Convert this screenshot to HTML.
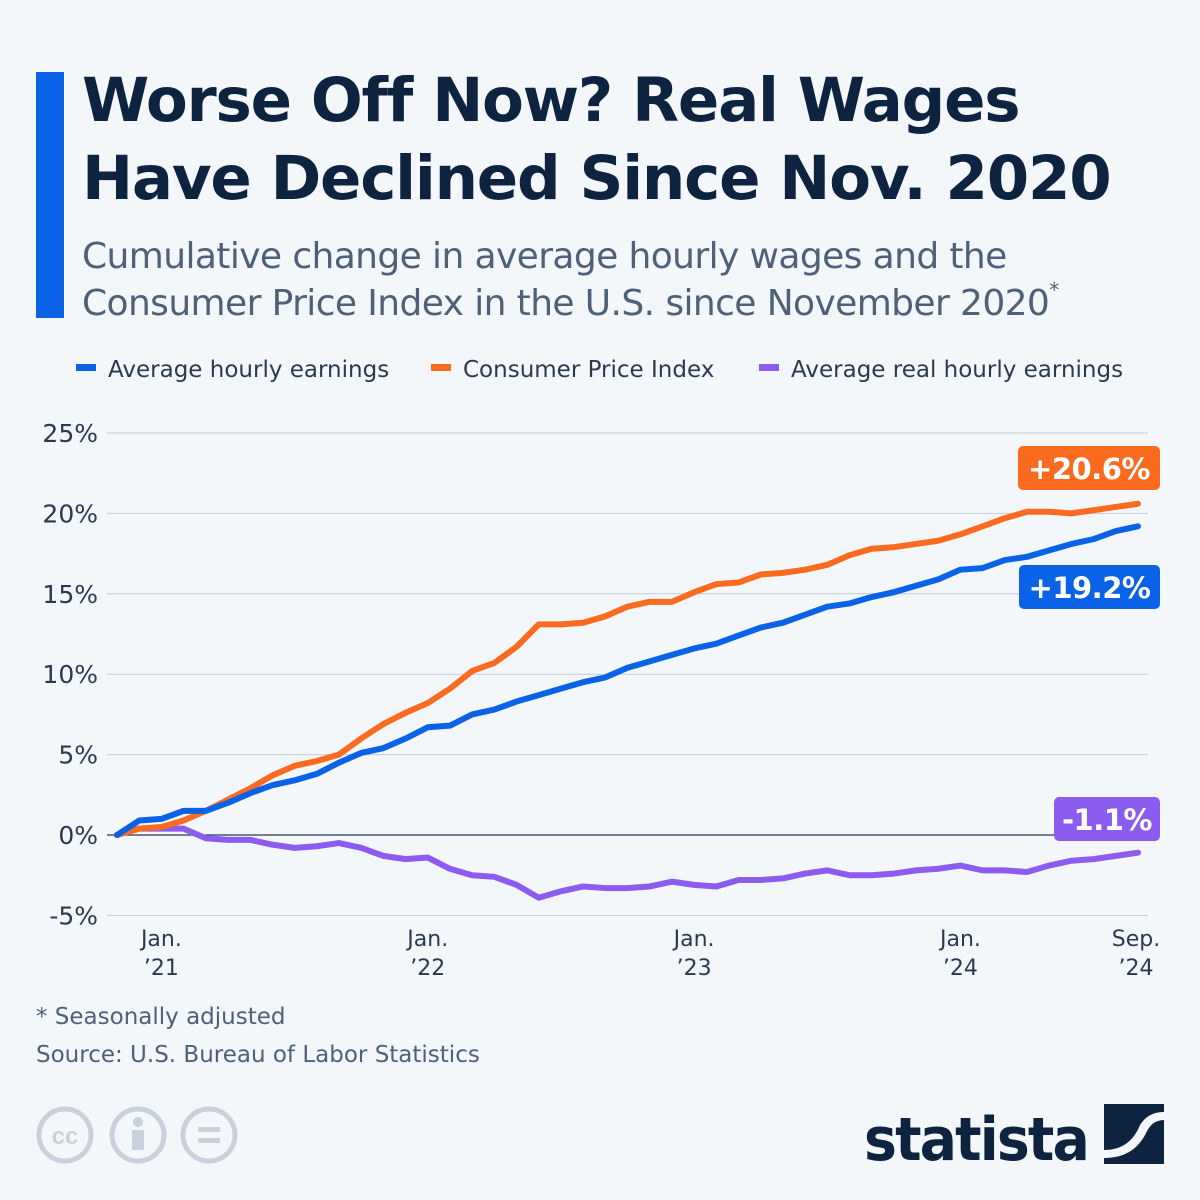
<!DOCTYPE html>
<html><head><meta charset="utf-8"><style>
body{margin:0;width:1200px;height:1200px;background:#f4f7fa;font-family:"Liberation Sans","DejaVu Sans",sans-serif;overflow:hidden;position:relative}
.t{position:absolute}
</style></head><body>
<div class="t" style="left:36px;top:72px;width:28px;height:246px;background:#0a63e6"></div>
<div class="t" style="left:82px;top:62px;font-size:61px;font-weight:bold;color:#0d2340;line-height:78px;font-family:'DejaVu Sans',sans-serif;letter-spacing:-1.2px">Worse Off Now? Real Wages<br>Have Declined Since Nov. 2020</div>
<div class="t" style="left:82px;top:233px;font-size:36px;color:#4e6178;line-height:47px;font-family:'DejaVu Sans',sans-serif;letter-spacing:-0.6px">Cumulative change in average hourly wages and the<br>Consumer Price Index in the U.S. since November 2020<span style="font-size:20px;vertical-align:top;line-height:20px">*</span></div>
<svg class="t" style="left:0;top:0" width="1200" height="1200">
<g id="legend" font-family="DejaVu Sans,sans-serif" font-size="23" fill="#2a3a4f">
<g><rect x="76" y="364" width="20" height="7" fill="#0a63e6"/><text x="108" y="377">Average hourly earnings</text></g>
<g><rect x="431" y="364" width="20" height="7" fill="#fa6b1f"/><text x="463" y="377">Consumer Price Index</text></g>
<g><rect x="759" y="364" width="20" height="7" fill="#8c5cf0"/><text x="791" y="377">Average real hourly earnings</text></g>
</g>
<g id="grid"></g><g id="xax"></g><g id="lines"></g><g id="badges"></g>
<text x="36" y="1024" font-size="23" fill="#4e6178" font-family="DejaVu Sans,sans-serif">* Seasonally adjusted</text>
<text x="36" y="1062" font-size="23" fill="#4e6178" font-family="DejaVu Sans,sans-serif">Source: U.S. Bureau of Labor Statistics</text>
<g fill="none" stroke="#c9d2dc" stroke-width="5">
<circle cx="65" cy="1135" r="26"/><circle cx="138" cy="1135" r="26"/><circle cx="209" cy="1135" r="26"/></g>
<text x="65" y="1144" font-size="24" font-weight="bold" fill="#c9d2dc" text-anchor="middle">cc</text>
<circle cx="138" cy="1122" r="5" fill="#c9d2dc"/><rect x="132" y="1130" width="12" height="20" fill="#c9d2dc"/>
<rect x="198" y="1127" width="22" height="5" fill="#c9d2dc"/><rect x="198" y="1138" width="22" height="5" fill="#c9d2dc"/>
<text x="864" y="1160" font-size="60" font-weight="bold" fill="#0d2340" font-family="DejaVu Sans,sans-serif" letter-spacing="-2" textLength="224" lengthAdjust="spacingAndGlyphs">statista</text>
<g><rect x="1104" y="1104" width="60" height="60" fill="#0d2340"/><path d="M1104 1150 Q1130 1150 1140 1125 Q1148 1112 1164 1112 L1164 1120 Q1152 1120 1146 1133 Q1134 1158 1104 1158Z" fill="#f4f7fa"/></g>
</svg>
<script>
const months=47;
const yTicks=[25,20,15,10,5,0,-5];
const xTickIdx=[2,14,26,38,46];
const xTickLabels=[["Jan.","\u201921"],["Jan.","\u201922"],["Jan.","\u201923"],["Jan.","\u201924"],["Sep.","\u201924"]];
const wages=[0,0.9,1.0,1.5,1.5,2.0,2.6,3.1,3.4,3.8,4.5,5.1,5.4,6.0,6.7,6.8,7.5,7.8,8.3,8.7,9.1,9.5,9.8,10.4,10.8,11.2,11.6,11.9,12.4,12.9,13.2,13.7,14.2,14.4,14.8,15.1,15.5,15.9,16.5,16.6,17.1,17.3,17.7,18.1,18.4,18.9,19.2];
const cpi=[0,0.4,0.5,0.9,1.5,2.2,2.9,3.7,4.3,4.6,5.0,6.0,6.9,7.6,8.2,9.1,10.2,10.7,11.7,13.1,13.1,13.2,13.6,14.2,14.5,14.5,15.1,15.6,15.7,16.2,16.3,16.5,16.8,17.4,17.8,17.9,18.1,18.3,18.7,19.2,19.7,20.1,20.1,20.0,20.2,20.4,20.6];
const real=[0,0.4,0.4,0.4,-0.2,-0.3,-0.3,-0.6,-0.8,-0.7,-0.5,-0.8,-1.3,-1.5,-1.4,-2.1,-2.5,-2.6,-3.1,-3.9,-3.5,-3.2,-3.3,-3.3,-3.2,-2.9,-3.1,-3.2,-2.8,-2.8,-2.7,-2.4,-2.2,-2.5,-2.5,-2.4,-2.2,-2.1,-1.9,-2.2,-2.2,-2.3,-1.9,-1.6,-1.5,-1.3,-1.1];
const badgeLabels=["+20.6%","+19.2%","-1.1%"];
const NS="http://www.w3.org/2000/svg";
const x=i=>117+i*(1138-117)/(months-1);
const y=v=>835-v*16.08;
function mk(t,a,p){const e=document.createElementNS(NS,t);for(const k in a)e.setAttribute(k,a[k]);p.appendChild(e);return e;}
const grid=document.getElementById('grid');
yTicks.forEach(v=>{
 const l=mk('line',{x1:107,x2:1148,y1:y(v),y2:y(v),stroke:v===0?'#2a3a4f':'#c5ccd6','stroke-width':v===0?1.3:1},grid);
 
 
 const t=mk('text',{x:98,y:y(v)+9,'text-anchor':'end','font-size':25,fill:'#2a3a4f','font-family':'DejaVu Sans,sans-serif'},grid);
 t.textContent=v+'%';
 
 
});
const xax=document.getElementById('xax');
xTickIdx.forEach((i,k)=>{
 xTickLabels[k].forEach((s,j)=>{
  const t=mk('text',{x:x(i)+(k===4?-2:0),y:946+j*29,'text-anchor':'middle','font-size':22,fill:'#2a3a4f','font-family':'DejaVu Sans,sans-serif'},xax);
  t.textContent=s;
  
  
 });
});
const lines=document.getElementById('lines');
[[real,'#8c5cf0','real-earnings-line'],[cpi,'#fa6b1f','cpi-line'],[wages,'#0a63e6','hourly-earnings-line']].forEach(([d,c,n])=>{
 const p=mk('polyline',{points:d.map((v,i)=>x(i)+','+y(v)).join(' '),fill:'none',stroke:c,'stroke-width':6,'stroke-linejoin':'round','stroke-linecap':'round'},lines);
 
 
});
const badges=document.getElementById('badges');
[[cpi,'#fa6b1f',446,1018],[wages,'#0a63e6',565,1019],[real,'#8c5cf0',797,1054]].forEach(([d,c,top,left],k)=>{
 const r=mk('rect',{x:left,y:top,width:1160-left,height:44,rx:5,fill:c},badges);
 
 
 const t=mk('text',{x:(left+1160)/2,y:top+33,'text-anchor':'middle','font-size':29,'font-weight':'bold',fill:'#fff','font-family':'DejaVu Sans,sans-serif','letter-spacing':-0.5},badges);
 t.textContent=badgeLabels[k];
 
 
});
</script>
</body></html>
